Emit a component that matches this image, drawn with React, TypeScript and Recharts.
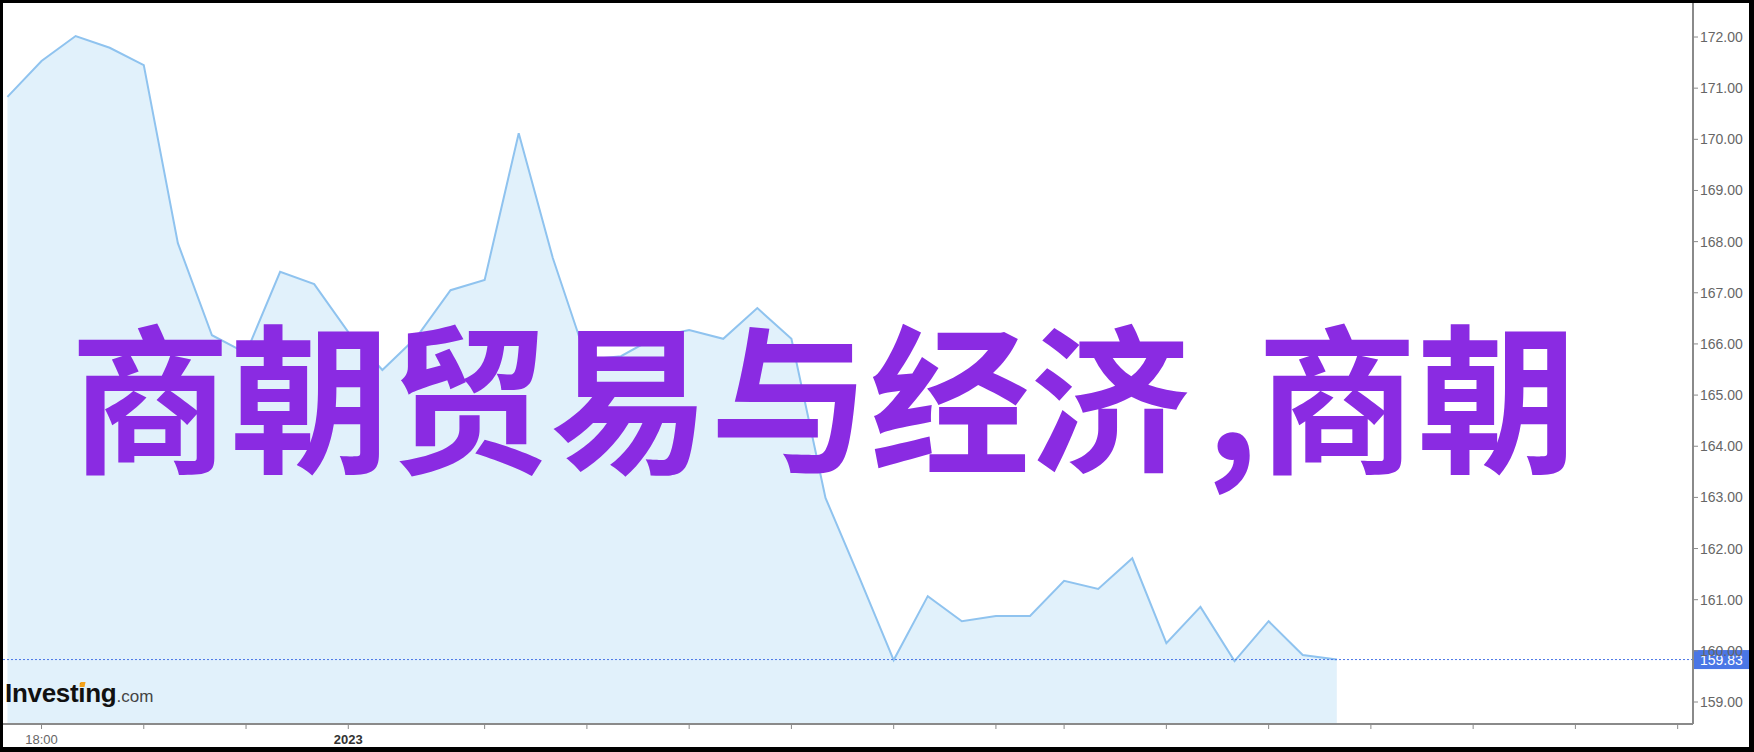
import { AreaChart, Area, XAxis, YAxis, ReferenceLine } from 'recharts';

// closing price per bar
const prices = [
  170.83, 171.53, 172.02, 171.79, 171.45, 167.97, 166.17, 165.82, 167.41, 167.17,
  166.23, 165.49, 166.13, 167.05, 167.25, 170.12, 167.68, 165.69, 165.76, 166.13,
  166.27, 166.1, 166.7, 166.1, 162.99, 161.42, 159.82, 161.07, 160.58, 160.68,
  160.68, 161.37, 161.21, 161.81, 160.15, 160.86, 159.8, 160.58, 159.92, 159.83,
];
const lastPrice = 159.83;

const xTicks = [1, 4, 7, 10, 14, 17, 20, 23, 26, 29, 31, 34, 37, 40, 43, 46, 49];
const xTickLabels: Record<number, string> = { 1: '18:00', 10: '2023' };
const boldTicks = [10];
const yTicks = [159, 160, 161, 162, 163, 164, 165, 166, 167, 168, 169, 170, 171, 172];

const titleHead = '商朝贸易与经济';
const titleSep = ',';
const titleTail = '商朝';

const data = prices.map((v, i) => ({ i, v }));

const axisFont = '"Liberation Sans", Arial, sans-serif';

const XTick = ({ x, y, payload }: any) => {
  const label = xTickLabels[payload.value];
  if (!label) return null;
  const bold = boldTicks.includes(payload.value);
  return (
    <text
      x={x}
      y={y + 13}
      textAnchor="middle"
      fontFamily={axisFont}
      fontSize={13}
      fontWeight={bold ? 'bold' : 'normal'}
      fill={bold ? '#333' : '#666'}
    >
      {label}
    </text>
  );
};

const PriceTag = ({ viewBox }: any) => {
  const { x, y, width } = viewBox;
  const left = x + width;
  return (
    <g>
      <rect x={left} y={y - 9.5} width={56} height={19} fill="#4a76e6" />
      <text x={left + 7} y={y + 5} fontFamily={axisFont} fontSize={14} fill="#fff">
        {lastPrice.toFixed(2)}
      </text>
    </g>
  );
};

export default function App() {
  return (
    <div style={{ position: 'absolute', left: 0, top: 0, width: 1754, height: 752, background: '#fff' }}>
      <AreaChart width={1754} height={752} data={data} margin={{ top: 3, right: 0, bottom: 0, left: 3 }}>
        <XAxis
          dataKey="i"
          type="number"
          domain={[-0.13, 49.45]}
          allowDataOverflow
          ticks={xTicks}
          tick={<XTick />}
          height={28}
          tickSize={5}
          axisLine={{ stroke: '#8a8a8a', strokeWidth: 2 }}
          tickLine={{ stroke: '#8a8a8a' }}
        />
        <YAxis
          orientation="right"
          domain={[158.57, 172.665]}
          allowDataOverflow
          ticks={yTicks}
          tickFormatter={(v: number) => v.toFixed(2)}
          width={61}
          tickSize={5}
          tickMargin={2}
          tick={{ fill: '#666', fontSize: 14, fontFamily: axisFont }}
          axisLine={{ stroke: '#8a8a8a', strokeWidth: 2 }}
          tickLine={{ stroke: '#8a8a8a' }}
        />
        <Area
          type="linear"
          dataKey="v"
          stroke="#8fc3ef"
          strokeWidth={2}
          fill="#e1f1fb"
          fillOpacity={1}
          dot={false}
          activeDot={false}
          isAnimationActive={false}
        />
        <ReferenceLine
          y={lastPrice}
          stroke="#4a76e6"
          strokeDasharray="2 2"
          strokeWidth={1}
          label={<PriceTag />}
        />
      </AreaChart>

      <div style={{ position: 'absolute', left: 5, top: 678, whiteSpace: 'nowrap', fontFamily: axisFont }}>
        <span style={{ fontSize: 26, fontWeight: 'bold', color: '#111', letterSpacing: -0.3 }}>
          Invest
          <span style={{ position: 'relative' }}>
            i
            <span
              style={{
                position: 'absolute',
                left: 1.5,
                top: 4,
                width: 5,
                height: 5,
                background: '#f5a21b',
                transform: 'skewX(-12deg)',
              }}
            />
          </span>
          ng
        </span>
        <span style={{ fontSize: 17, color: '#444' }}>.com</span>
      </div>

      <svg width={1754} height={752} style={{ position: 'absolute', left: 0, top: 0, pointerEvents: 'none' }}>
        <text
          x={70}
          y={461}
          fontFamily='"Noto Sans CJK SC", sans-serif'
          fontWeight="bold"
          fontSize={160}
          fill="#8a2be2"
        >
          {titleHead}
          <tspan dx={16}>{titleSep}</tspan>
          <tspan x={1257}>{titleTail}</tspan>
        </text>
      </svg>

      <div
        style={{
          position: 'absolute',
          left: 0,
          top: 0,
          width: 1754,
          height: 752,
          boxSizing: 'border-box',
          borderStyle: 'solid',
          borderColor: '#000',
          borderWidth: '3px 5px 5px 3px',
          pointerEvents: 'none',
        }}
      />
    </div>
  );
}
